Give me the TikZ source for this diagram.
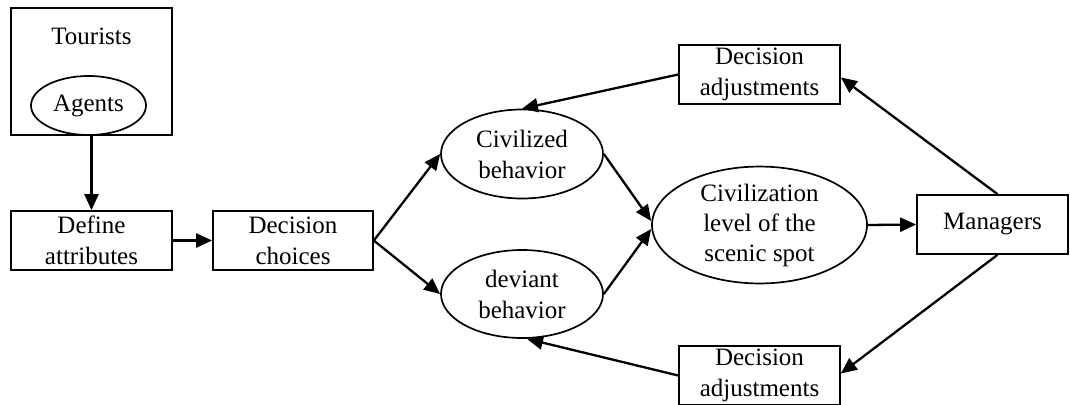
\documentclass[tikz,border=0pt]{standalone}
\usepackage{fontspec}
\setmainfont{Liberation Serif}
\usetikzlibrary{shapes.geometric,arrows.meta}
\begin{document}
\begin{tikzpicture}[x=1pt,y=-1pt,
  every node/.style={font=\fontsize{25}{31}\selectfont, align=center, inner sep=0pt},
  box/.style={draw, line width=1.7pt, rectangle},
  oval/.style={draw, line width=1.7pt, ellipse},
  conn/.style={line width=2.3pt, -{Triangle[length=16pt,width=14pt]}}]
\useasboundingbox (0,0) rectangle (1070,404);
% nodes
\node[box, minimum width=161, minimum height=127] (tour) at (91.5,71.5) {};
\node (tourtxt) at (91.5,36) {Tourists};
\node[oval, minimum width=115, minimum height=59] (agents) at (88.5,105.5) {Agents};
\node[box, minimum width=161, minimum height=59] (def) at (91.5,240.5) {Define\\attributes};
\node[box, minimum width=160, minimum height=59] (dc) at (293,240.5) {Decision\\choices};
\node[oval, minimum width=162, minimum height=89] (civ) at (522,154) {Civilized\\behavior};
\node[oval, minimum width=162, minimum height=88] (dev) at (522,294) {deviant\\behavior};
\node[oval, minimum width=215, minimum height=90, font=\fontsize{25}{30}\selectfont] (lvl) at (759.5,225) {Civilization\\level of the\\scenic spot};
\node[box, minimum width=151, minimum height=59] (man) at (992.5,224.5) {Managers};
\node[box, minimum width=161, minimum height=59] (adj1) at (759.5,74.5) {Decision\\adjustments};
\node[box, minimum width=161, minimum height=59] (adj2) at (759.5,375.5) {Decision\\adjustments};
% connectors
\draw[conn] (tour.south) -- (def.north);
\draw[conn] (def.east) -- (dc.west);
\draw[conn] (dc.east) -- (civ.west);
\draw[conn] (dc.east) -- (dev.west);
\draw[conn] (civ.east) -- ([yshift=4pt]lvl.west);
\draw[conn] (dev.east) -- ([yshift=-4pt]lvl.west);
\draw[conn] (lvl.east) -- (man.west);
\draw[conn] ([xshift=5pt]man.north) -- ([yshift=-3pt]adj1.east);
\draw[conn] ([xshift=5pt]man.south) -- ([yshift=2pt]adj2.east);
\draw[conn] (adj1.west) -- (civ.north);
\draw[conn] (adj2.west) -- ([xshift=5pt]dev.south);
\end{tikzpicture}
\end{document}
